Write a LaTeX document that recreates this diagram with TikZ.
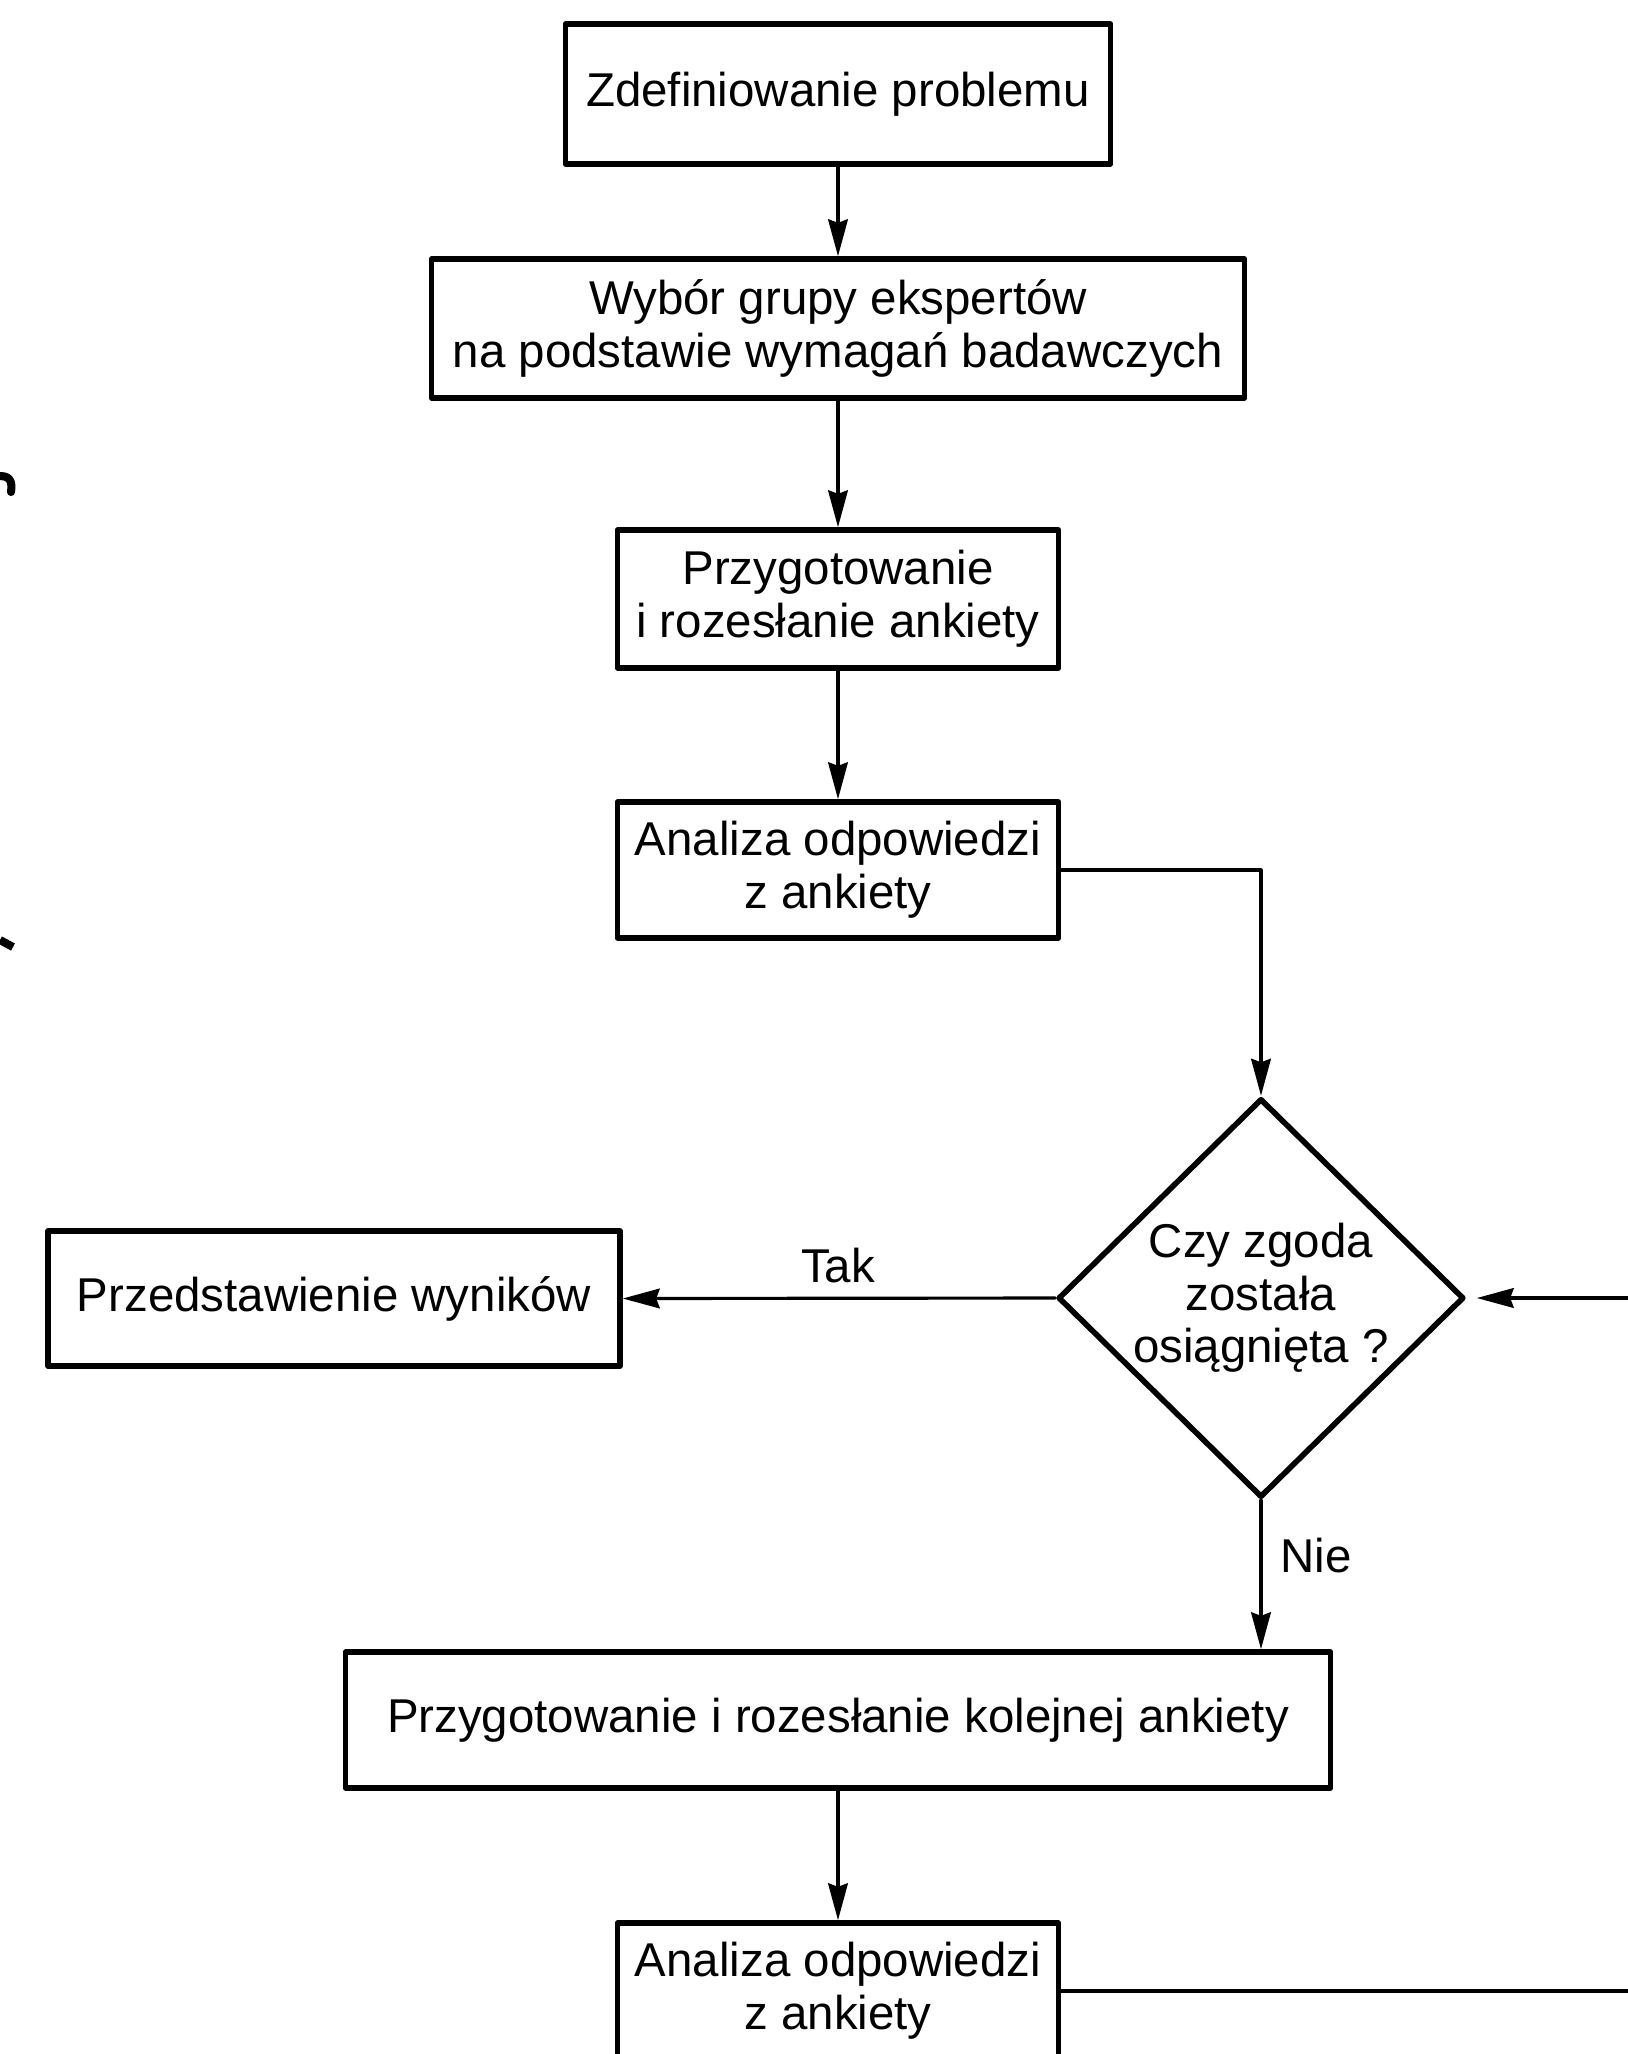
\documentclass[tikz,border=0pt]{standalone}
\usepackage{fontspec}
\setmainfont{Liberation Sans}
\usetikzlibrary{arrows.meta,shapes.geometric}
\begin{document}
\begin{tikzpicture}[line join=round, line cap=round, >={Stealth[length=10.5pt,width=5.6pt,inset=1pt]},
	khung/.style={draw, line width=1.6pt, align=center, inner sep=0pt, font=\fontsize{13.5}{15}\selectfont},
	nhan/.style={inner sep=0pt, font=\fontsize{13.5}{15}\selectfont},
	noi/.style={line width=0.9pt}]
	\useasboundingbox (0,0) rectangle (16.28,-20.54);
	%% Khoi
	\node[khung, minimum width=5.45cm, minimum height=1.40cm] (B1) at (8.38,-0.94) {Zdefiniowanie problemu};
	\node[khung, minimum width=8.13cm, minimum height=1.39cm] (B2) at (8.38,-3.285) {Wybór grupy ekspertów\\na podstawie wymagań badawczych};
	\node[khung, minimum width=4.41cm, minimum height=1.38cm] (B3) at (8.38,-5.99) {Przygotowanie\\i rozesłanie ankiety};
	\node[khung, minimum width=4.41cm, minimum height=1.36cm] (B4) at (8.38,-8.70) {Analiza odpowiedzi\\z ankiety};
	\node[khung, diamond, inner sep=-3pt, minimum width=4.06cm, minimum height=3.99cm] (D) at (12.61,-12.98) {Czy zgoda\\została\\osiągnięta ?};
	\node[khung, minimum width=5.72cm, minimum height=1.35cm] (B6) at (3.34,-12.985) {Przedstawienie wyników};
	\node[khung, minimum width=9.85cm, minimum height=1.36cm] (B7) at (8.38,-17.20) {Przygotowanie i rozesłanie kolejnej ankiety};
	\node[khung, minimum width=4.41cm, minimum height=1.36cm] (B8) at (8.38,-19.91) {Analiza odpowiedzi\\z ankiety};
	%% Nhan
	\node[nhan] (tak) at (8.38,-12.66) {Tak};
	\node[nhan] (nie) at (13.16,-15.56) {Nie};
	%% Diem bien phai
	\path
	(16.28,-12.98) coordinate (P)
	(16.28,-19.91) coordinate (Q)
	;
	%% Mui ten
	\foreach \a/\b in {B1/B2,B2/B3,B3/B4,B7/B8}
	\draw[noi,->] (\a.south) -- (\b.north);
	\draw[noi,->] (B4.east) -| (D.north);
	\draw[noi,->] (D.west) -- (B6.east);
	\draw[noi,->] (D.south) -- (D.south |- B7.north);
	\draw[noi] (B8.east) -- (Q);
	\draw[noi,->,shorten >=1mm] (P) -- (D.east);
	%% Vet ben trai
	\draw[line width=2.3pt] (0,-4.76) .. controls (0.12,-4.76) and (0.12,-4.84) .. (0.11,-4.92);
	\draw[line width=2.3pt, line cap=butt] (0,-9.40) -- (0.13,-9.47);
\end{tikzpicture}
\end{document}
